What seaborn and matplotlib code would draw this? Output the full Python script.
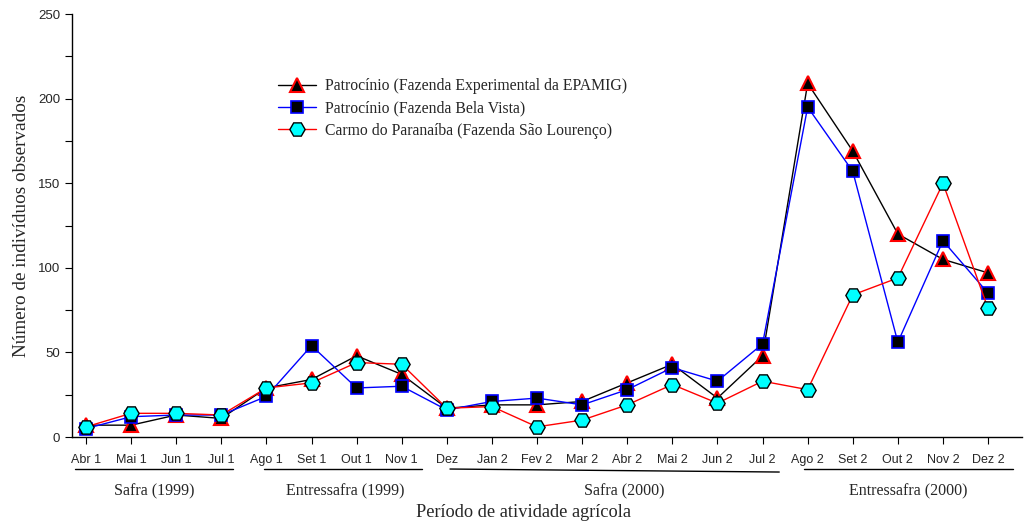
import matplotlib
matplotlib.use("Agg")
import matplotlib.pyplot as plt
import matplotlib.transforms as mtransforms
import seaborn as sns
import pandas as pd
import numpy as np

months = ["Abr 1", "Mai 1", "Jun 1", "Jul 1", "Ago 1", "Set 1", "Out 1", "Nov 1", "Dez",
          "Jan 2", "Fev 2", "Mar 2", "Abr 2", "Mai 2", "Jun 2", "Jul 2", "Ago 2",
          "Set 2", "Out 2", "Nov 2", "Dez 2"]
epamig = [7, 7, 13, 11, 29, 34, 48, 37, 17, 19, 19, 21, 32, 43, 23, 48, 209, 169, 120, 105, 97]
bela_vista = [5, 12, 13, 13, 24, 54, 29, 30, 16, 21, 23, 19, 28, 41, 33, 55, 195, 157, 56, 116, 85]
sao_lourenco = [6, 14, 14, 13, 29, 32, 44, 43, 17, 18, 6, 10, 19, 31, 20, 33, 28, 84, 94, 150, 76]
series_names = ["Patrocínio (Fazenda Experimental da EPAMIG)",
                "Patrocínio (Fazenda Bela Vista)",
                "Carmo do Paranaíba (Fazenda São Lourenço)"]
groups = ["Safra (1999)", "Entressafra (1999)", "Safra (2000)", "Entressafra (2000)"]

# underline extents (in category-index units) and label centres for the groups
group_lines = [(-0.24, 3.26, -0.0757, -0.0757), (3.95, 7.45, -0.0757, -0.0757),
               (8.07, 15.37, -0.0757, -0.0828), (15.92, 20.55, -0.0757, -0.0757)]
group_centres = [1.51, 5.74, 11.93, 18.24]

sns.set_theme(style="ticks")
plt.rcParams["font.family"] = ["Liberation Sans", "DejaVu Sans"]

fig = plt.figure(figsize=(10.26, 5.25), dpi=100)
ax = fig.add_axes([0.0702, 0.1676, 0.9258, 0.8057])

x = np.arange(len(months))
df = pd.DataFrame({"x": x, "epamig": epamig, "bela": bela_vista, "sao": sao_lourenco})

sns.lineplot(data=df, x="x", y="epamig", ax=ax, color="black", lw=1.0,
             marker="^", markersize=10, markerfacecolor="black",
             markeredgecolor="red", markeredgewidth=1.5, label=series_names[0])
sns.lineplot(data=df, x="x", y="bela", ax=ax, color="blue", lw=1.0,
             marker="s", markersize=9, markerfacecolor="black",
             markeredgecolor="blue", markeredgewidth=1.2, label=series_names[1])
sns.lineplot(data=df, x="x", y="sao", ax=ax, color="red", lw=1.0,
             marker="H", markersize=11, markerfacecolor="cyan",
             markeredgecolor="black", markeredgewidth=1.0, label=series_names[2])

ax.set_xlim(-0.31, 20.75)
ax.set_ylim(0, 250)
ax.set_xticks(x)
ax.set_xticklabels(months, fontsize=9)
ax.set_yticks([0, 50, 100, 150, 200, 250])
ax.set_yticks([25, 75, 125, 175, 225], minor=True)
ax.tick_params(axis="y", labelsize=9.5, direction="out", length=5, width=0.8, color="black")
ax.tick_params(axis="y", which="minor", direction="out", length=5, width=0.8, color="black", left=True)
ax.tick_params(axis="x", direction="out", length=5, width=0.8, color="black", pad=7)
for s in ["top", "right"]:
    ax.spines[s].set_visible(False)
for s in ["left", "bottom"]:
    ax.spines[s].set_color("black")
    ax.spines[s].set_linewidth(1.0)

ax.set_xlabel("")
ax.set_ylabel("Número de indivíduos observados", fontsize=13.8,
              family=["Liberation Serif", "DejaVu Serif"], labelpad=6)

leg = ax.legend(loc="upper left", bbox_to_anchor=(0.2024, 0.882), frameon=False,
                prop={"family": ["Liberation Serif"], "size": 11.3},
                handlelength=2.4, labelspacing=0.4, handletextpad=0.6)

trans = mtransforms.blended_transform_factory(ax.transData, ax.transAxes)
for name, (a, b, ya, yb), c in zip(groups, group_lines, group_centres):
    ax.plot([a, b], [ya, yb], color="black", lw=1.0, transform=trans, clip_on=False)
    ax.text(c, -0.128, name, transform=trans, ha="center", va="center",
            fontsize=11.5, family=["Liberation Serif"])

ax.text(9.69, -0.178, "Período de atividade agrícola", transform=trans,
        ha="center", va="center", fontsize=13.2, family=["Liberation Serif"])

fig.savefig("out.png", dpi=100)
